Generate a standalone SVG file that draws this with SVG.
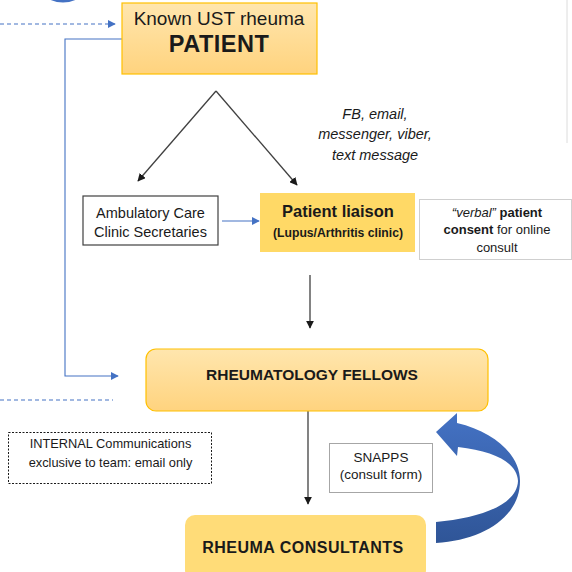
<svg xmlns="http://www.w3.org/2000/svg" width="572" height="572" viewBox="0 0 572 572">
<style>
  .t { font-family: "Liberation Sans", Arial, sans-serif; fill: #1a1a1a; }
  .gold { stroke: #FFC000; stroke-width: 1.2; }
  .blk { stroke: #404040; stroke-width: 1.3; fill: none; }
  .blu { stroke: #4472C4; stroke-width: 1.1; fill: none; }
</style>
<defs>
  <linearGradient id="gOr" x1="0" y1="0" x2="0" y2="1">
    <stop offset="0" stop-color="#FFE6AE"/>
    <stop offset="1" stop-color="#FFD37E"/>
  </linearGradient>
  <linearGradient id="gBl" x1="0" y1="0" x2="0" y2="1">
    <stop offset="0" stop-color="#4472C4"/>
    <stop offset="1" stop-color="#2F5597"/>
  </linearGradient>
  <marker id="aK" viewBox="0 0 10 10" refX="9" refY="5" markerWidth="8" markerHeight="8" markerUnits="userSpaceOnUse" orient="auto">
    <path d="M0,0 L10,5 L0,10 Z" fill="#1a1a1a"/>
  </marker>
  <marker id="aB" viewBox="0 0 10 10" refX="9" refY="5" markerWidth="8" markerHeight="8" markerUnits="userSpaceOnUse" orient="auto">
    <path d="M0,0 L10,5 L0,10 Z" fill="#4472C4"/>
  </marker>
</defs>
<rect width="572" height="572" fill="#ffffff"/>

<g id="decor">
  <path d="M46,-4 Q63,6 80,-4" stroke="#4472C4" stroke-width="3" fill="none"/>
  <line x1="567" y1="0" x2="567" y2="143" stroke="#dcdcdc" stroke-width="1"/>
</g>

<g id="connectors">
  <line x1="0" y1="24" x2="115" y2="24" class="blu" stroke-dasharray="4,3" marker-end="url(#aB)"/>
  <polyline points="122,39 65,39 65,376 118,376" class="blu" marker-end="url(#aB)"/>
  <line x1="0" y1="400" x2="113" y2="400" class="blu" stroke-dasharray="4,3"/>
  <line x1="216" y1="91" x2="138" y2="181" class="blk" marker-end="url(#aK)"/>
  <line x1="216" y1="91" x2="297" y2="185" class="blk" marker-end="url(#aK)"/>
  <line x1="222" y1="221" x2="259" y2="221" class="blu" marker-end="url(#aB)"/>
  <line x1="310" y1="275" x2="310" y2="328" class="blk" marker-end="url(#aK)"/>
  <line x1="308" y1="411" x2="308" y2="504" class="blk" marker-end="url(#aK)"/>
  <path id="curved-arrow" d="M436,432 L457,413 L457,423 C495,432 520,455 520,481 C520,516 485,540 436,543 L436,522 C480,518 517,505 518,481 C517,463 495,451 458,447 L457,456 Z" fill="url(#gBl)"/>
  <text class="t" x="375" y="119" font-size="14.5" font-style="italic" text-anchor="middle">FB, email,</text>
  <text class="t" x="375" y="139" font-size="14.5" font-style="italic" text-anchor="middle">messenger, viber,</text>
  <text class="t" x="375" y="160" font-size="14.5" font-style="italic" text-anchor="middle">text message</text>
</g>

<g id="patient">
  <rect x="122" y="3" width="195" height="71" fill="url(#gOr)" class="gold"/>
  <text class="t" x="219" y="25" font-size="19" text-anchor="middle">Known UST rheuma</text>
  <text class="t" x="219" y="52" font-size="23.5" font-weight="bold" text-anchor="middle" letter-spacing="0.5">PATIENT</text>
</g>

<g id="ambulatory">
  <rect x="83" y="196" width="135" height="49" fill="#ffffff" stroke="#404040" stroke-width="1.2"/>
  <text class="t" x="150.5" y="218" font-size="14.5" text-anchor="middle">Ambulatory Care</text>
  <text class="t" x="150.5" y="237" font-size="14.5" text-anchor="middle">Clinic Secretaries</text>
</g>

<g id="liaison">
  <rect x="260" y="193" width="155" height="59" fill="#FFD966"/>
  <text class="t" x="338" y="217" font-size="16.5" font-weight="bold" text-anchor="middle">Patient liaison</text>
  <text class="t" x="338" y="237" font-size="12.2" font-weight="bold" text-anchor="middle">(Lupus/Arthritis clinic)</text>
</g>

<g id="consent">
  <rect x="419.5" y="199.5" width="152" height="60" fill="#ffffff" stroke="#cfcfcf" stroke-width="1"/>
  <text class="t" x="497" y="217" font-size="13" text-anchor="middle"><tspan font-style="italic">“verbal”</tspan> <tspan font-weight="bold">patient</tspan></text>
  <text class="t" x="497" y="234" font-size="13" text-anchor="middle"><tspan font-weight="bold">consent</tspan> for online</text>
  <text class="t" x="497" y="252" font-size="13" text-anchor="middle">consult</text>
</g>

<g id="fellows">
  <rect x="146" y="349" width="342" height="62" rx="10" fill="url(#gOr)" class="gold"/>
  <text class="t" x="312" y="380" font-size="15.5" font-weight="bold" text-anchor="middle">RHEUMATOLOGY FELLOWS</text>
</g>

<g id="internal">
  <rect x="8.5" y="432.5" width="203" height="51" fill="#ffffff" stroke="#1a1a1a" stroke-width="1" stroke-dasharray="2,1.5"/>
  <text class="t" x="110.5" y="448" font-size="12.8" text-anchor="middle">INTERNAL Communications</text>
  <text class="t" x="110.5" y="467" font-size="12.8" text-anchor="middle">exclusive to team: email only</text>
</g>

<g id="snapps">
  <rect x="329.5" y="443.5" width="103" height="49" fill="#ffffff" stroke="#a6a6a6" stroke-width="1"/>
  <text class="t" x="381" y="462" font-size="13.5" text-anchor="middle">SNAPPS</text>
  <text class="t" x="381" y="479" font-size="13.5" text-anchor="middle">(consult form)</text>
</g>

<g id="consultants">
  <rect x="185" y="515" width="241" height="65" rx="10" fill="#FFDC78"/>
  <text class="t" x="303" y="553" font-size="16" font-weight="bold" text-anchor="middle" letter-spacing="0.5">RHEUMA CONSULTANTS</text>
</g>
</svg>
